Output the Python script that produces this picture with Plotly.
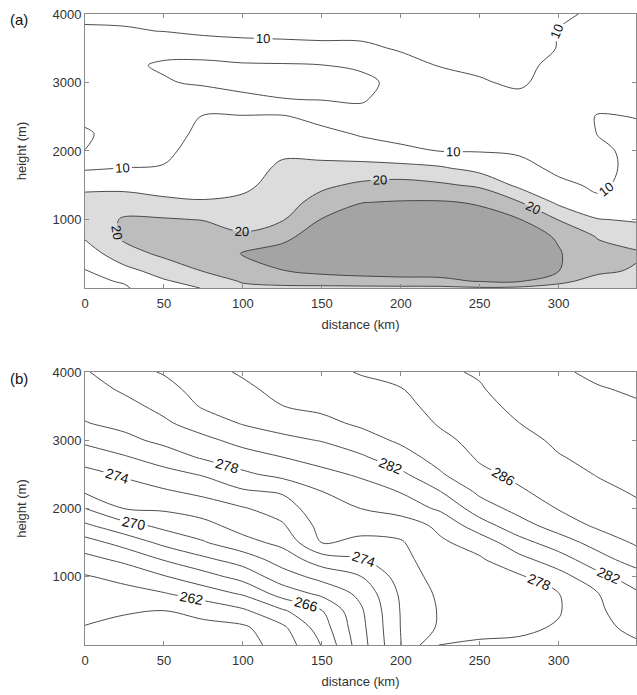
import numpy as np
import plotly.graph_objects as go

# ---------------- data ----------------
distance_km = [0, 25, 50, 75, 100, 125, 150, 175, 200, 225, 250, 275, 300, 325, 350]
height_a_m = [0, 100, 250, 500, 750, 1000, 1250, 1500, 1750, 2000, 2250, 2500, 2750, 3000, 3250, 3500, 3750, 4000]
height_b_m = [0, 250, 500, 750, 1000, 1250, 1500, 1750, 2000, 2250, 2500, 2750, 3000, 3250, 3500, 3750, 4000]

# panel (a): one profile (bottom -> top) per distance column
speed_000 = [8.5, 9.0, 9.8, 12.5, 15.6, 17.0, 16.2, 14.2, 9.4, 9.95, 10.6, 9.0, 8.3, 7.8, 7.6, 8.0, 9.5, 10.8]
speed_025 = [9.5, 10.4, 13.5, 18.0, 21.0, 20.5, 17.5, 13.5, 10.05, 8.5, 8.0, 7.5, 7.0, 6.5, 5.6, 7.5, 9.6, 11.0]
speed_050 = [13.0, 14.5, 17.0, 21.0, 22.5, 20.4, 16.0, 13.0, 10.3, 9.0, 8.0, 7.5, 6.5, 5.3, 4.6, 6.0, 10.1, 11.3]
speed_075 = [15.2, 17.0, 20.2, 23.5, 22.8, 19.8, 15.4, 13.0, 12.5, 12.0, 11.2, 10.3, 7.0, 4.5, 4.3, 6.5, 11.2, 11.8]
speed_100 = [18.8, 20.5, 23.5, 25.2, 20.8, 18.0, 16.0, 14.0, 13.0, 12.3, 11.5, 10.4, 5.6, 4.2, 4.5, 8.0, 11.3, 12.0]
speed_125 = [18.5, 22.5, 24.9, 26.5, 24.0, 19.6, 17.8, 16.8, 15.8, 14.2, 12.5, 10.5, 5.1, 4.0, 4.6, 8.3, 11.5, 12.3]
speed_150 = [18.5, 23.0, 26.0, 27.5, 27.0, 25.2, 22.0, 19.0, 16.0, 13.8, 11.5, 8.3, 4.9, 4.0, 4.9, 8.8, 11.5, 12.4]
speed_175 = [18.6, 23.5, 26.5, 28.0, 28.0, 27.0, 24.9, 21.0, 16.5, 12.6, 9.5, 6.5, 4.6, 4.0, 5.6, 9.0, 11.4, 12.3]
speed_200 = [18.7, 23.8, 26.8, 28.2, 28.3, 27.4, 25.3, 21.8, 16.5, 11.0, 8.5, 7.5, 7.0, 6.2, 8.2, 10.5, 11.5, 12.0]
speed_225 = [18.7, 24.0, 26.8, 28.0, 28.0, 27.0, 25.4, 20.8, 15.6, 9.9, 8.5, 8.0, 7.8, 8.4, 10.2, 11.0, 11.5, 12.0]
speed_250 = [19.5, 25.3, 27.0, 27.5, 27.3, 26.5, 24.6, 19.2, 13.3, 9.8, 8.5, 8.0, 8.3, 9.6, 10.8, 11.2, 11.5, 11.8]
speed_275 = [19.0, 25.5, 27.0, 27.3, 26.8, 25.2, 20.3, 13.9, 11.5, 9.4, 8.3, 7.6, 8.8, 10.7, 11.0, 11.2, 11.3, 11.5]
speed_300 = [18.5, 21.0, 25.1, 25.3, 24.6, 19.8, 14.0, 11.0, 9.0, 8.2, 7.5, 7.0, 7.2, 8.0, 9.0, 9.9, 9.9, 10.4]
speed_325 = [17.0, 18.5, 20.8, 22.0, 19.6, 15.2, 10.8, 9.3, 9.0, 9.4, 10.1, 10.3, 8.5, 8.0, 8.0, 8.3, 8.8, 9.6]
speed_350 = [16.0, 17.0, 19.5, 20.5, 18.0, 14.4, 12.5, 11.5, 11.0, 10.8, 10.6, 9.9, 8.8, 8.3, 8.2, 8.4, 8.8, 9.3]

# panel (b): potential temperature (K), one profile per distance column
theta_000 = [259.3, 259.9, 260.54, 261.18, 261.83, 263.32, 265.18, 267.65, 269.98, 272.26, 273.40, 274.81, 276.45, 277.91, 278.58, 279.19, 279.80]
theta_025 = [258.6, 259.21, 260.25, 261.29, 262.57, 264.43, 266.74, 269.30, 272.04, 273.11, 274.25, 275.81, 277.47, 278.57, 279.40, 280.30, 281.36]
theta_050 = [258.8, 259.4, 259.98, 261.85, 263.84, 266.10, 268.50, 270.52, 272.29, 273.76, 275.27, 276.96, 278.51, 279.67, 280.57, 281.37, 282.15]
theta_075 = [258.9, 259.4, 260.6, 262.92, 265.2, 267.55, 269.82, 271.39, 272.94, 274.52, 276.18, 278.25, 279.5, 281.0, 282.22, 282.78, 283.33]
theta_100 = [259.2, 259.6, 261.65, 264.21, 266.70, 268.87, 271.33, 272.79, 273.83, 275.75, 277.63, 279.14, 280.67, 282.14, 282.86, 283.57, 284.25]
theta_125 = [260.8, 261.55, 263.71, 266.82, 269.07, 270.89, 272.5, 273.75, 274.93, 276.24, 278.57, 279.98, 281.52, 282.81, 283.98, 284.63, 285.25]
theta_150 = [264.1, 265.0, 265.92, 268.43, 270.64, 273.0, 276.03, 276.68, 277.34, 277.99, 279.43, 280.79, 282.11, 283.54, 284.39, 284.97, 285.54]
theta_175 = [269.2, 269.45, 269.75, 270.5, 271.98, 273.79, 275.47, 276.81, 278.02, 279.11, 280.29, 281.71, 283.25, 284.31, 284.92, 285.52, 286.12]
theta_200 = [273.95, 274.05, 274.1, 274.3, 274.8, 275.3, 275.8, 276.9, 278.85, 280.1, 281.57, 283.23, 284.3, 284.86, 285.4, 285.93, 286.5]
theta_225 = [278.15, 276.3, 276.2, 276.4, 276.85, 277.3, 277.7, 278.46, 280.33, 281.98, 283.79, 284.71, 285.52, 286.2, 286.7, 287.2, 287.7]
theta_250 = [278.3, 277.4, 277.1, 277.2, 277.45, 277.75, 278.8, 281.13, 283.0, 284.44, 285.56, 286.24, 286.64, 287.04, 287.44, 287.84, 288.2]
theta_275 = [278.4, 277.6, 277.35, 277.45, 277.75, 279.36, 281.29, 283.2, 284.67, 285.78, 286.42, 286.94, 287.46, 287.99, 288.47, 288.94, 289.42]
theta_300 = [278.9, 278.2, 277.85, 277.95, 279.2, 281.1, 283.0, 284.9, 286.1, 286.7, 287.3, 287.9, 288.3, 288.6, 289.0, 289.4, 289.8]
theta_325 = [279.6, 279.6, 279.75, 279.95, 281.4, 283.2, 284.8, 286.35, 287.0, 287.55, 288.1, 288.45, 288.8, 289.15, 289.5, 289.9, 290.3]
theta_350 = [279.8, 280.4, 281.0, 281.75, 283.1, 285.0, 286.3, 287.0, 287.7, 288.2, 288.5, 288.85, 289.2, 289.5, 289.85, 290.2, 290.5]

x_ticks = [0, 50, 100, 150, 200, 250, 300]
y_ticks = [1000, 2000, 3000, 4000]

# ---------------- figure ----------------
speed_cols = [speed_000, speed_025, speed_050, speed_075, speed_100, speed_125, speed_150, speed_175,
              speed_200, speed_225, speed_250, speed_275, speed_300, speed_325, speed_350]
theta_cols = [theta_000, theta_025, theta_050, theta_075, theta_100, theta_125, theta_150, theta_175,
              theta_200, theta_225, theta_250, theta_275, theta_300, theta_325, theta_350]
z_a = np.array(speed_cols).T
z_b = np.array(theta_cols).T

FONT = "Liberation Sans, Arial, Helvetica, sans-serif"
LINE = "#3a3a3a"
WHITE, LIGHT, MID, DARK = "#ffffff", "#dcdcdc", "#bdbdbd", "#a4a4a4"

fig = go.Figure()

# (a) shaded bands
fig.add_trace(go.Contour(
    x=distance_km, y=height_a_m, z=z_a, xaxis="x", yaxis="y",
    autocontour=False, contours=dict(start=5, end=25, size=5, coloring="fill"),
    colorscale=[[0, WHITE], [0.4, WHITE], [0.6, LIGHT], [0.8, MID], [1.0, DARK]],
    line=dict(width=0), showscale=False, hoverinfo="skip"))
# (a) unlabeled lines 5, 15, 25
fig.add_trace(go.Contour(
    x=distance_km, y=height_a_m, z=z_a, xaxis="x", yaxis="y",
    autocontour=False, contours=dict(start=5, end=25, size=10, coloring="none"),
    line=dict(color=LINE, width=0.9), showscale=False, hoverinfo="skip"))
# (a) labeled lines 10, 20 (higher levels lie outside the data; they only set label spacing)
fig.add_trace(go.Contour(
    x=distance_km, y=height_a_m, z=z_a, xaxis="x", yaxis="y",
    autocontour=False, contours=dict(start=10, end=400, size=10, coloring="none", showlabels=True,
                                     labelfont=dict(family=FONT, size=13, color="#111")),
    line=dict(color=LINE, width=0.9), showscale=False, hoverinfo="skip"))

# (b) unlabeled lines
fig.add_trace(go.Contour(
    x=distance_km, y=height_b_m, z=z_b, xaxis="x2", yaxis="y2",
    autocontour=False, contours=dict(start=260, end=288, size=4, coloring="none"),
    line=dict(color=LINE, width=0.9), showscale=False, hoverinfo="skip"))
# (b) labeled lines 262..290 (levels above 290 lie outside the data; they only set label spacing)
fig.add_trace(go.Contour(
    x=distance_km, y=height_b_m, z=z_b, xaxis="x2", yaxis="y2",
    autocontour=False, contours=dict(start=262, end=398, size=4, coloring="none", showlabels=True,
                                     labelfont=dict(family=FONT, size=14, color="#111")),
    line=dict(color=LINE, width=0.9), showscale=False, hoverinfo="skip"))

axis_common = dict(showgrid=False, zeroline=False, showline=True, linecolor="#8a8a8a", linewidth=1,
                   mirror="ticks", ticks="inside", ticklen=4, tickcolor="#8a8a8a", automargin=False,
                   tickfont=dict(family=FONT, size=13, color="#333"))
xa = dict(axis_common, range=[0, 349], tickvals=x_ticks, ticklabelstandoff=3,
          title=dict(text="distance (km)", font=dict(family=FONT, size=13, color="#333"), standoff=10))
ya = dict(axis_common, range=[0, 4000], tickvals=y_ticks,
          title=dict(text="height (m)", font=dict(family=FONT, size=13, color="#333"), standoff=22))

fig.update_layout(
    width=637, height=695,
    margin=dict(l=85, r=1, t=14, b=50),
    paper_bgcolor="white", plot_bgcolor="white",
    showlegend=False,
    xaxis=dict(xa, domain=[0, 1], anchor="y"),
    yaxis=dict(ya, domain=[0.5658, 1], anchor="x"),
    xaxis2=dict(xa, domain=[0, 1], anchor="y2"),
    yaxis2=dict(ya, domain=[0, 0.4327], anchor="x2"),
    annotations=[
        dict(text="(a)", xref="paper", yref="paper", x=-0.1397, y=0.9905, xanchor="left", yanchor="middle",
             showarrow=False, font=dict(family=FONT, size=15, color="#111")),
        dict(text="(b)", xref="paper", yref="paper", x=-0.1397, y=0.4231, xanchor="left", yanchor="middle",
             showarrow=False, font=dict(family=FONT, size=15, color="#111")),
    ],
)

fig.write_html("out.html", config={"displayModeBar": False},
               post_script="document.body.style.margin='0px';")
